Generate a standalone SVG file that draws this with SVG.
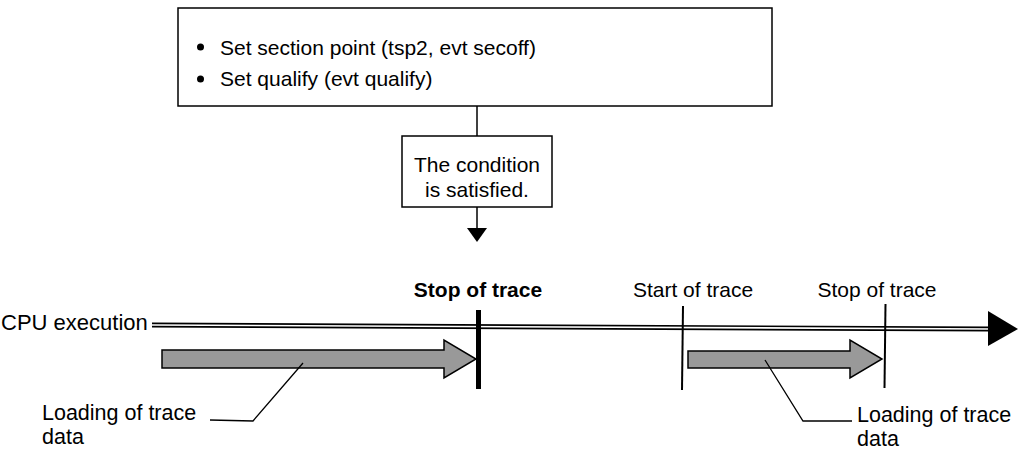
<svg xmlns="http://www.w3.org/2000/svg" width="1018" height="450" viewBox="0 0 1018 450">
  <defs>
    <style>
      .txt { font-family: "Liberation Sans", Arial, sans-serif; font-size: 21px; fill: #000; }
      .big { font-size: 22px; }
      .note { font-size: 21.5px; }
      .bold { font-weight: bold; }
      .mid { text-anchor: middle; }
      .box { fill: #fff; stroke: #000; stroke-width: 1.5; }
      .load { fill: #999; stroke: #000; stroke-width: 1.5; stroke-linejoin: miter; }
      .lead { fill: none; stroke: #000; stroke-width: 1.3; }
      .mark { stroke: #000; stroke-width: 2; }
      .mark-bold { stroke: #000; stroke-width: 5; }
    </style>
  </defs>

  <!-- settings box -->
  <g id="settings">
    <rect class="box" x="178" y="8" width="594" height="98"/>
    <circle cx="200.5" cy="47" r="3.5" fill="#000"/>
    <circle cx="200.5" cy="79" r="3.5" fill="#000"/>
    <text class="txt" x="220" y="55">Set section point (tsp2, evt secoff)</text>
    <text class="txt" x="220" y="86">Set qualify (evt qualify)</text>
  </g>

  <!-- condition box -->
  <g id="condition">
    <rect class="box" x="402" y="136" width="150" height="71"/>
    <text class="txt mid" x="477" y="172">The condition</text>
    <text class="txt mid" x="477" y="197">is satisfied.</text>
  </g>

  <!-- connectors -->
  <g id="connectors">
    <line x1="477" y1="106" x2="477" y2="136" stroke="#000" stroke-width="1.5"/>
    <line x1="477" y1="207" x2="477" y2="229" stroke="#000" stroke-width="1.5"/>
    <polygon points="467,228 487,228 477,242" fill="#000"/>
  </g>

  <!-- CPU execution timeline -->
  <g id="timeline">
    <text class="txt big" x="1" y="330">CPU execution</text>
    <line x1="152" y1="325" x2="990" y2="329" stroke="#000" stroke-width="5"/>
    <line x1="152" y1="325" x2="990" y2="329" stroke="#fff" stroke-width="1.6"/>
    <polygon points="988,311 1018,329 988,346" fill="#000"/>
  </g>

  <!-- trace markers -->
  <g id="stop1">
    <text class="txt bold mid" x="478" y="297">Stop of trace</text>
    <line class="mark-bold" x1="478.5" y1="310" x2="478.5" y2="389"/>
  </g>
  <g id="start2">
    <text class="txt mid" x="693" y="297">Start of trace</text>
    <line class="mark" x1="683" y1="306" x2="682" y2="390"/>
  </g>
  <g id="stop2">
    <text class="txt mid" x="877" y="297">Stop of trace</text>
    <line class="mark" x1="885.5" y1="304" x2="884.5" y2="388"/>
  </g>

  <!-- trace data loading arrows -->
  <g id="load1">
    <polygon class="load" points="162,350 444,350 444,340 476,359 444,378 444,368 162,368"/>
    <polyline class="lead" points="303,363 253,421 210,420"/>
    <text class="txt note" x="42" y="420">Loading of trace</text>
    <text class="txt note" x="42" y="444">data</text>
  </g>
  <g id="load2">
    <polygon class="load" points="688,351 850,351 850,340 882,359 850,378 850,368 688,368"/>
    <polyline class="lead" points="765,360 803,421 852,421"/>
    <text class="txt note" x="857" y="422">Loading of trace</text>
    <text class="txt note" x="857" y="446">data</text>
  </g>
</svg>
